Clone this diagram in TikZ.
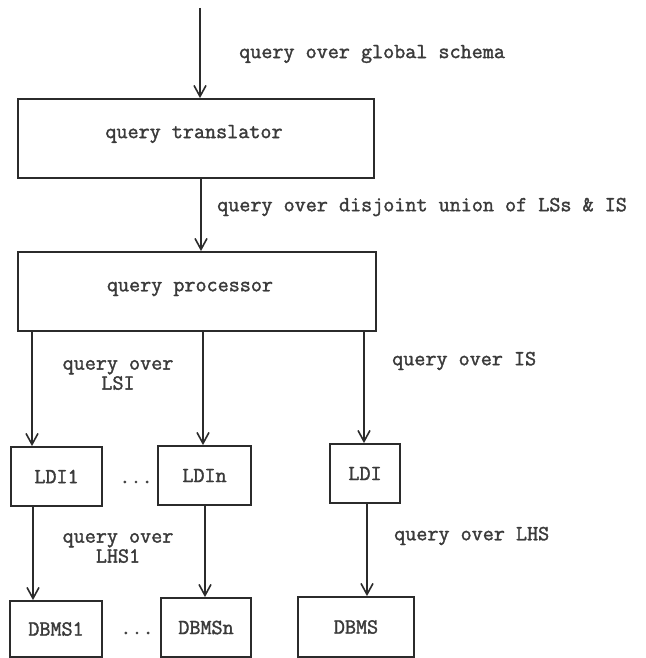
\documentclass[tikz,border=0pt]{standalone}
\usepackage{fontspec}
\setmonofont{Latin Modern Mono}[BoldFont={Latin Modern Mono}, BoldFeatures={FakeBold=1.6}]
\usetikzlibrary{arrows.meta,calc}
\definecolor{ink}{HTML}{2B2B2B}
\definecolor{type}{HTML}{3A3A3A}
\begin{document}
\begin{tikzpicture}[x=1pt,y=-1pt,
  every node/.style={font=\ttfamily\bfseries\fontsize{21.5}{20}\selectfont, text=type, inner sep=0pt},
  box/.style={draw=ink, line width=1.8pt, fill=white},
  arr/.style={draw=ink, line width=1.8pt, -{Straight Barb[length=11pt,width=12pt,line width=1.6pt]}},
  lbl/.style={anchor=west},
  twoline/.style={align=center}]
\useasboundingbox[fill=white] (0,0) rectangle (645,658);

% processing boxes
\node[box, minimum width=356pt, minimum height=79pt] (trans) at (196,138.5) {};
\node at (194,134) {query translator};
\node[box, minimum width=358pt, minimum height=79pt] (proc) at (197,291.5) {};
\node at (190,289) {query processor};

\node[box, minimum width=91pt, minimum height=59pt] (ldi1) at (56.5,476.5) {LDI1};
\node[box, minimum width=93pt, minimum height=59pt] (ldin) at (204.5,475.5) {LDIn};
\node[box, minimum width=70pt, minimum height=59pt] (ldi)  at (365,473.5) {LDI};

\node[box, minimum width=92pt, minimum height=56pt] (dbms1) at (56,629) {DBMS1};
\node[box, minimum width=90pt, minimum height=59pt] (dbmsn) at (206,627.5) {DBMSn};
\node[box, minimum width=116pt, minimum height=60pt] (dbms)  at (356,627) {DBMS};

\node (dots1) at (136,482) {...};
\node (dots2) at (137,633) {...};

% incoming query
\coordinate (in) at (200,8);
\draw[arr] (in) -- (in |- trans.north);
\node[lbl] (l0) at (239,54) {query over global schema};

\coordinate (t) at (201,0);
\draw[arr] (trans.south -| t) -- (proc.north -| t);
\node[lbl] (l1) at (217,207) {query over disjoint union of LSs \& IS};

% fan-out to the local data interfaces
\coordinate (a1) at (32,0);
\coordinate (a2) at (203,0);
\coordinate (a3) at (364,0);
\draw[arr] (proc.south -| a1) -- (ldi1.north -| a1);
\draw[arr] (proc.south -| a2) -- (ldin.north -| a2);
\draw[arr] (proc.south -| a3) -- (ldi.north -| a3);
\node[twoline] (l2) at (118,375) {query over\\LSI};
\node[lbl] (l3) at (392,361) {query over IS};

% local data interfaces to the DBMSs
\coordinate (b1) at (33,0);
\coordinate (b2) at (205,0);
\coordinate (b3) at (367,0);
\draw[arr] (ldi1.south -| b1) -- (dbms1.north -| b1);
\draw[arr] (ldin.south -| b2) -- (dbmsn.north -| b2);
\draw[arr] (ldi.south -| b3) -- (dbms.north -| b3);
\node[twoline] (l4) at (118,548) {query over\\LHS1};
\node[lbl] (l5) at (394,536) {query over LHS};
\end{tikzpicture}
\end{document}
